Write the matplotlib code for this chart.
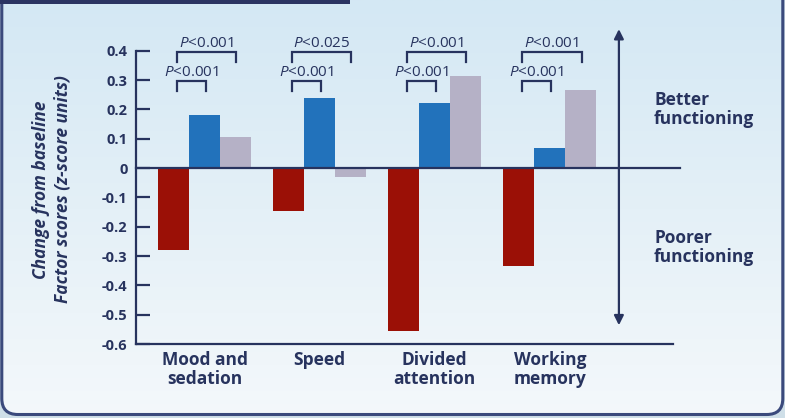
import numpy as np
import matplotlib
matplotlib.use("Agg")
import matplotlib.pyplot as plt
from matplotlib.patches import FancyBboxPatch, Rectangle

plt.rcParams['font.family'] = ['Open Sans', 'DejaVu Sans']
plt.rcParams['mathtext.fontset'] = 'custom'
plt.rcParams['mathtext.rm'] = 'Open Sans'
plt.rcParams['mathtext.it'] = 'Open Sans:italic'

# factor scores, change from baseline
categories = ['Mood and\nsedation', 'Speed', 'Divided\nattention', 'Working\nmemory']
red_vals = [-0.28, -0.145, -0.555, -0.333]
blue_vals = [0.18, 0.24, 0.222, 0.07]
grey_vals = [0.107, -0.03, 0.314, 0.267]
p_inner = ['<0.001', '<0.001', '<0.001', '<0.001']
p_outer = ['<0.001', '<0.025', '<0.001', '<0.001']
y_ticks = [0.4, 0.3, 0.2, 0.1, 0, -0.1, -0.2, -0.3, -0.4, -0.5, -0.6]

navy = '#27335e'
red = '#9b1006'
blue = '#2272bb'
grey = '#b5b1c6'

W, H = 785, 418
fig = plt.figure(figsize=(W / 100, H / 100), dpi=100)
fig.patch.set_facecolor('#cfdfe8')

# background panel with vertical gradient and rounded bottom corners
bg = fig.add_axes([0, 0, 1, 1])
bg.set_xlim(0, W)
bg.set_ylim(H, 0)
bg.axis('off')
grad = np.linspace(0, 1, 256)[:, None]
img = bg.imshow(grad, extent=[0, W, H, 0], aspect='auto', zorder=0,
                cmap=matplotlib.colors.LinearSegmentedColormap.from_list(
                    'bgc', ['#d4e8f4', '#e4f0f7', '#f4f8fb']))
panel = FancyBboxPatch((1.8, -40), W - 4, H - 3.5 + 40,
                       boxstyle='round,pad=0,rounding_size=16',
                       fc='none', ec='#3b4a7c', lw=2.2, zorder=2)
bg.add_patch(panel)
img.set_clip_path(panel)
bg.add_patch(Rectangle((0, 0), 350, 3.5, fc='#2b3462', ec='none', zorder=3))

ax = fig.add_axes([136 / W, 74 / H, (673 - 136) / W, 322.5 / H])
ax.patch.set_alpha(0)

x = np.arange(len(categories))
bw = 0.27
ax.bar(x - bw, red_vals, bw, color=red, zorder=2)
ax.bar(x, blue_vals, bw, color=blue, zorder=2)
ax.bar(x + bw, grey_vals, bw, color=grey, zorder=2)

ax.set_xlim(-0.596, 4.07)
ax.set_ylim(-0.6, 0.5)

for s in ['top', 'right']:
    ax.spines[s].set_visible(False)
for s in ['left', 'bottom']:
    ax.spines[s].set_color(navy)
    ax.spines[s].set_linewidth(1.6)
ax.spines['left'].set_bounds(-0.6, 0.4)

ax.set_yticks(y_ticks)
ax.set_yticklabels([f'{t:g}' for t in y_ticks])
ax.tick_params(axis='y', direction='in', length=10, width=1.6, color=navy,
               labelcolor=navy, labelsize=10.5, pad=6)
for lbl in ax.get_yticklabels():
    lbl.set_fontweight('bold')
ax.set_xticks(x)
ax.set_xticklabels(categories, fontsize=12.5, fontweight='bold', color=navy,
                   linespacing=1.1)
ax.tick_params(axis='x', length=0, pad=5)

# zero line
ax.plot([-0.596, 4.13], [0, 0], color=navy, lw=1.6, clip_on=False, zorder=3)

# significance brackets
leg = 0.034
for i in range(len(categories)):
    x0 = i - 0.24
    for x1, yt, p in [(i + 0.012, 0.297, p_inner[i]), (i + 0.275, 0.396, p_outer[i])]:
        ax.plot([x0, x0, x1, x1], [yt - leg, yt, yt, yt - leg], color=navy,
                lw=1.6, clip_on=False, solid_joinstyle='miter')
        ax.text((x0 + x1) / 2, yt + 0.004, r'$\mathit{P}$' + p, ha='center',
                va='bottom', fontsize=11, color=navy)

# direction arrow
ax.annotate('', xy=(3.6, 0.474), xytext=(3.6, -0.536),
            arrowprops=dict(arrowstyle='<|-|>', color=navy, lw=1.6,
                            mutation_scale=14, shrinkA=0, shrinkB=0),
            annotation_clip=False)
ax.text(3.905, 0.20, 'Better\nfunctioning', ha='left', va='center',
        fontsize=12.5, fontweight='bold', color=navy, linespacing=1.1)
ax.text(3.905, -0.27, 'Poorer\nfunctioning', ha='left', va='center',
        fontsize=12.5, fontweight='bold', color=navy, linespacing=1.1)

fig.text(41 / W, 1 - 190 / H, 'Change from baseline', rotation=90,
         ha='center', va='center', fontsize=12.5, fontweight='bold',
         style='italic', color=navy)
fig.text(63 / W, 1 - 189 / H, 'Factor scores (z-score units)', rotation=90,
         ha='center', va='center', fontsize=12.5, fontweight='bold',
         style='italic', color=navy)

fig.savefig('out.png', dpi=100)
